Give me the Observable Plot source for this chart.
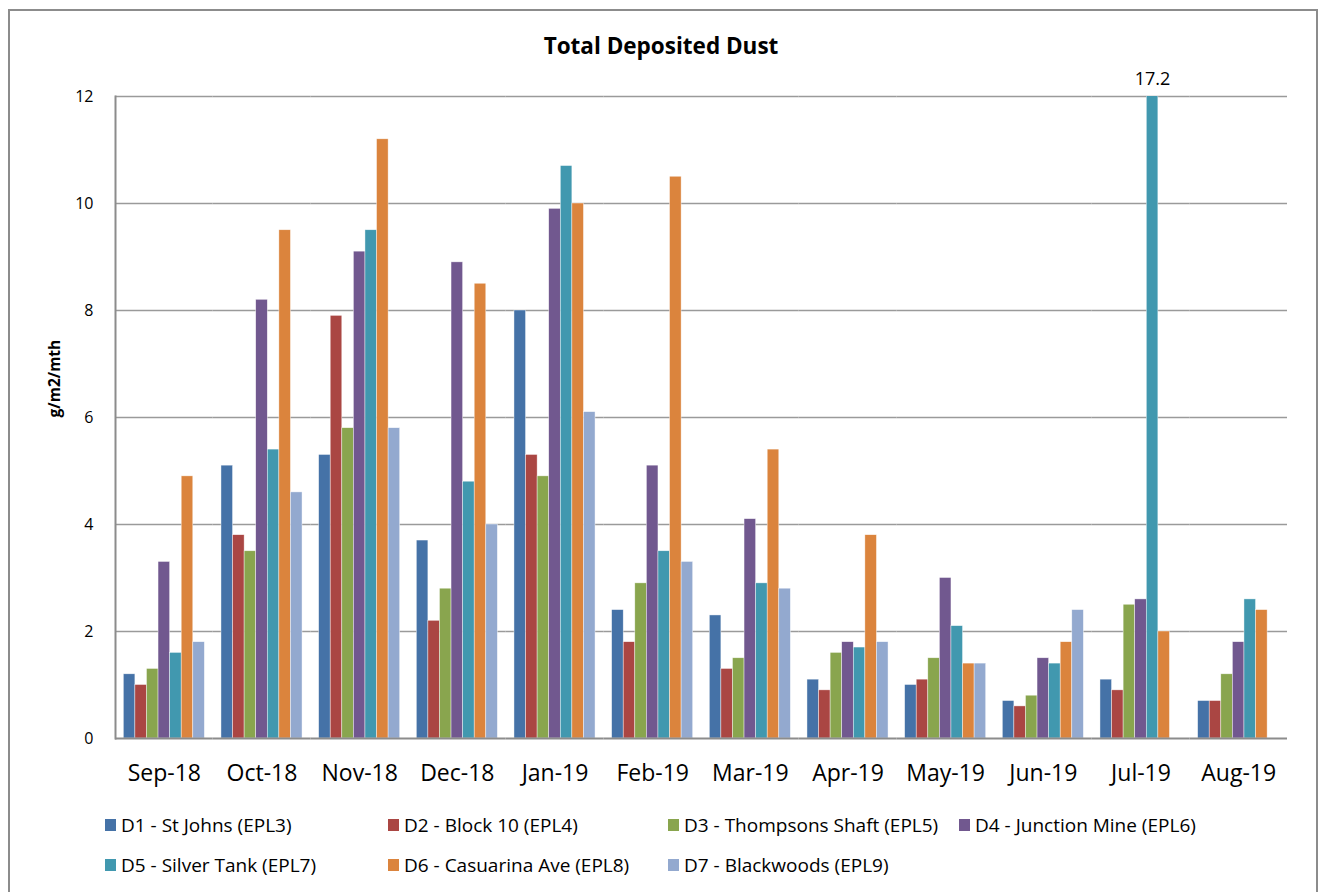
<!DOCTYPE html>
<html>
<head>
<meta charset="utf-8">
<script src="https://cdn.jsdelivr.net/npm/d3@7"></script>
<script src="https://cdn.jsdelivr.net/npm/@observablehq/plot@0.6"></script>
<style>
  body { margin: 0; background: #fff; }
  #chart { position: relative; width: 1322px; height: 892px; overflow: hidden; font-family: 'Open Sans', sans-serif; }
  #border { position: absolute; left: 8px; top: 9px; width: 1306px; height: 900px; border: 2px solid #8c8c8c; }
  #title { position: absolute; left: 0; top: 31px; width: 1322px; text-align: center; font-weight: bold; font-size: 22.5px; line-height: 30px; color: #000; }
  #plot { position: absolute; left: 0; top: 0; }
  #legend { position: absolute; left: 105px; top: 812px; display: grid; grid-template-columns: 283px 280px 291px auto; row-gap: 14px; font-size: 19px; color: #000; }
  .item { display: flex; align-items: center; white-space: nowrap; height: 26px; }
  .sw { width: 11px; height: 12px; margin-right: 5px; flex: none; }
</style>
</head>
<body>
<div id="chart">
  <div id="border"></div>
  <div id="title">Total Deposited Dust</div>
  <div id="plot"></div>
  <div id="legend"></div>
</div>
<script>
const months = ["Sep-18","Oct-18","Nov-18","Dec-18","Jan-19","Feb-19","Mar-19","Apr-19","May-19","Jun-19","Jul-19","Aug-19"];
const series = ["D1 - St Johns (EPL3)","D2 - Block 10 (EPL4)","D3 - Thompsons Shaft (EPL5)","D4 - Junction Mine (EPL6)","D5 - Silver Tank (EPL7)","D6 - Casuarina Ave (EPL8)","D7 - Blackwoods (EPL9)"];
const colors = ["#4572A7","#AA4643","#89A54E","#71588F","#4198AF","#DB843D","#93A9CF"];

const d1 = [1.2, 5.1, 5.3, 3.7, 8.0, 2.4, 2.3, 1.1, 1.0, 0.7, 1.1, 0.7];
const d2 = [1.0, 3.8, 7.9, 2.2, 5.3, 1.8, 1.3, 0.9, 1.1, 0.6, 0.9, 0.7];
const d3 = [1.3, 3.5, 5.8, 2.8, 4.9, 2.9, 1.5, 1.6, 1.5, 0.8, 2.5, 1.2];
const d4 = [3.3, 8.2, 9.1, 8.9, 9.9, 5.1, 4.1, 1.8, 3.0, 1.5, 2.6, 1.8];
const d5 = [1.6, 5.4, 9.5, 4.8, 10.7, 3.5, 2.9, 1.7, 2.1, 1.4, 17.2, 2.6];
const d6 = [4.9, 9.5, 11.2, 8.5, 10.0, 10.5, 5.4, 3.8, 1.4, 1.8, 2.0, 2.4];
const d7 = [1.8, 4.6, 5.8, 4.0, 6.1, 3.3, 2.8, 1.8, 1.4, 2.4, null, null];

const yTicks = [0, 2, 4, 6, 8, 10, 12];
const yMax = 12;
const yLabel = "g/m2/mth";

const seriesValues = [d1, d2, d3, d4, d5, d6, d7];
const rows = [];
seriesValues.forEach((vals, si) => {
  vals.forEach((v, mi) => {
    if (v != null) rows.push({month: months[mi], series: series[si], value: v});
  });
});

const chart = Plot.plot({
  width: 1322,
  height: 800,
  marginLeft: 115,
  marginRight: 35,
  marginTop: 96,
  marginBottom: 62,
  style: {fontFamily: "'Open Sans', sans-serif", color: "#000", background: "transparent"},
  fx: {domain: months, padding: 0, round: false, label: null},
  x: {domain: series, paddingInner: 0, paddingOuter: 0.717, round: false, axis: null},
  y: {domain: [0, yMax], axis: null},
  color: {domain: series, range: colors},
  marks: [
    Plot.ruleY(yTicks.filter(t => t > 0), {stroke: "#9a9a9a", strokeWidth: 1.6}),
    Plot.barY(rows, {fx: "month", x: "series", y: "value", fill: "series", clip: true, stroke: "#ffffff", strokeWidth: 0.6, strokeOpacity: 0.7}),
    Plot.ruleY([0], {stroke: "#8c8c8c", strokeWidth: 2}),
    Plot.frame({anchor: "left", facetAnchor: "left", stroke: "#8c8c8c", strokeWidth: 2}),
    Plot.text(rows.filter(d => d.value > yMax), {fx: "month", x: "series", y: () => yMax, text: d => String(d.value), dy: -17, fontSize: 18, fill: "#000"}),
    Plot.axisY({ticks: yTicks, tickSize: 0, tickPadding: 22, fontSize: 16, label: null, tickFormat: d => String(d)}),
    Plot.axisFx({anchor: "bottom", tickSize: 0, tickPadding: 26, fontSize: 23, label: null}),
    Plot.text([yLabel], {text: d => d, frameAnchor: "left", facetAnchor: "left", rotate: -90, dx: -60, fontWeight: "bold", fontSize: 15.5, fill: "#000"})
  ]
});
document.getElementById("plot").appendChild(chart);

const legend = document.getElementById("legend");
series.forEach((s, i) => {
  const item = document.createElement("div");
  item.className = "item";
  const sw = document.createElement("span");
  sw.className = "sw";
  sw.style.background = colors[i];
  const t = document.createElement("span");
  t.textContent = s;
  item.appendChild(sw);
  item.appendChild(t);
  legend.appendChild(item);
});
</script>
</body>
</html>
